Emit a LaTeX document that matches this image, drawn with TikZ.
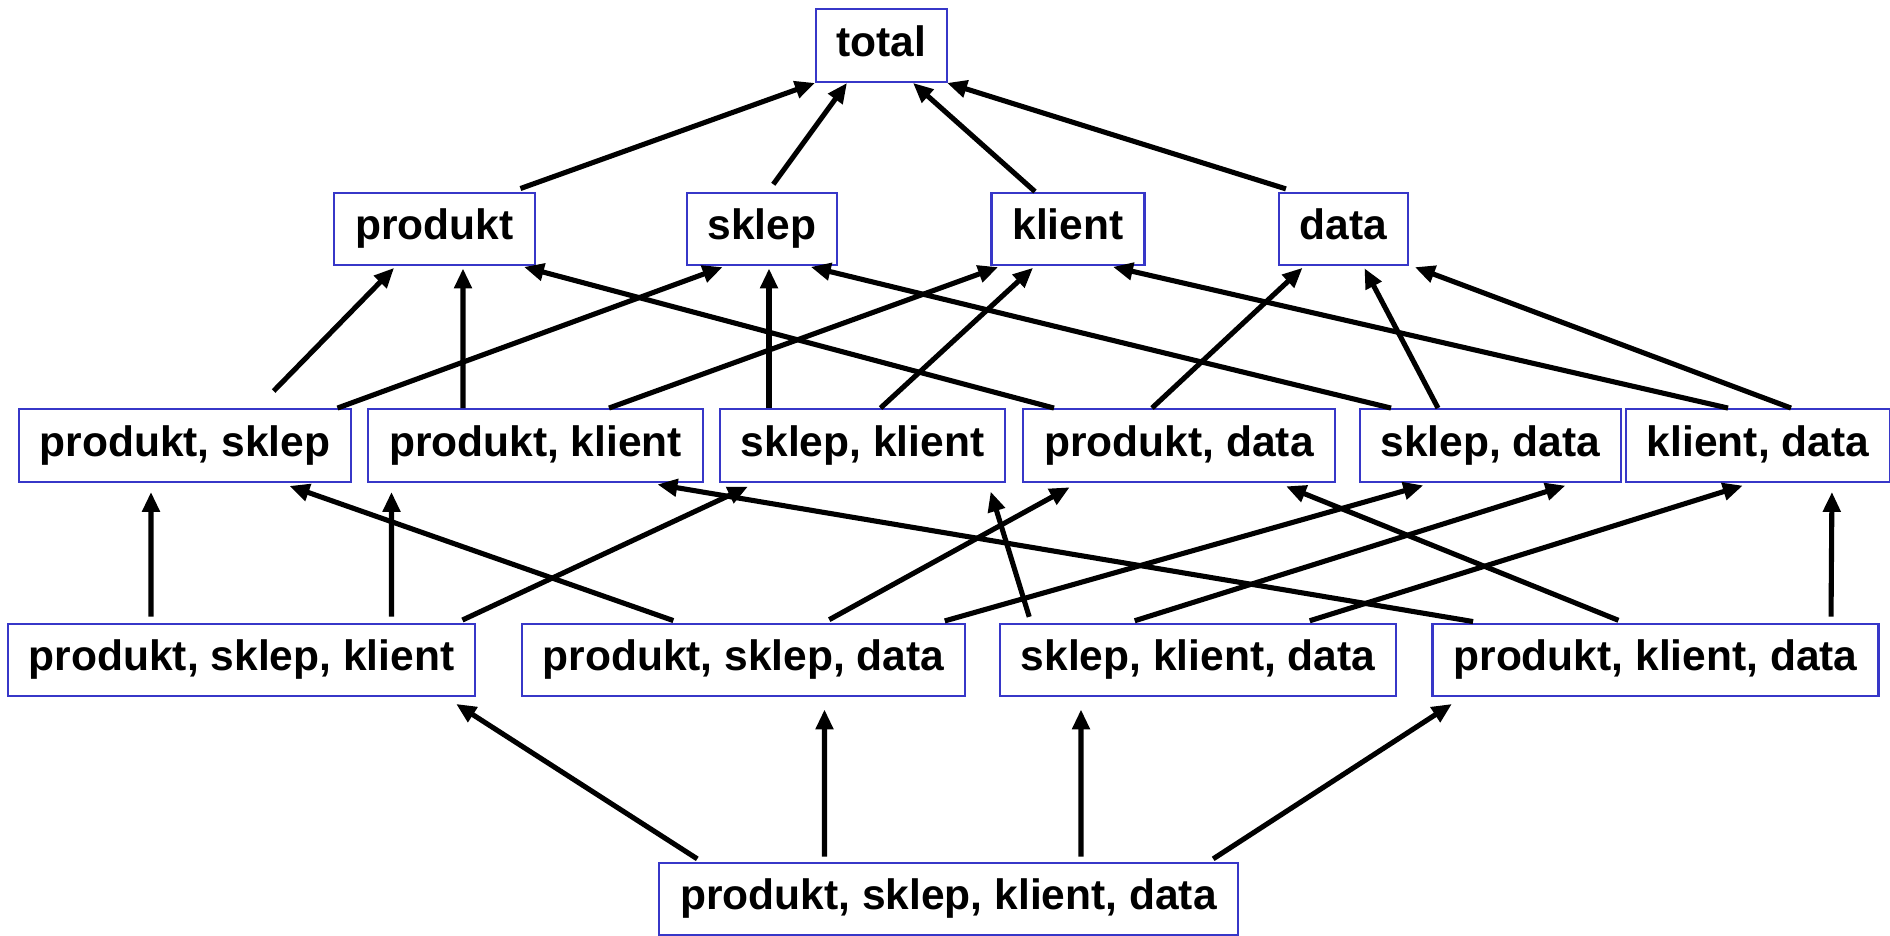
\documentclass[tikz,border=0pt]{standalone}
\usepackage{fontspec}
\setmainfont{Liberation Sans}
\usetikzlibrary{arrows.meta}

\definecolor{boxblue}{RGB}{55,55,200}

\tikzset{
	cube/.style={draw=boxblue, line width=0.6pt, fill=white, inner xsep=0.21cm, inner ysep=4.8pt,
		text height=8.6pt, text depth=2.5pt, font=\fontsize{12.1}{14}\selectfont\bfseries},
	up/.style={draw, line width=1.45pt, -{Triangle[length=0.2cm,width=0.17cm]}}
}

\begin{document}
\begin{tikzpicture}
	\useasboundingbox (0,0) rectangle (18.9,-9.36);
	
	\node[cube] (total) at (8.815,-0.455) {total};
	
	\node[cube] (produkt) at (4.345,-2.29) {produkt};
	\node[cube] (sklep) at (7.62,-2.29) {sklep};
	\node[cube] (klient) at (10.68,-2.29) {klient};
	\node[cube] (data) at (13.435,-2.29) {data};
	
	\node[cube] (ps) at (1.85,-4.455) {produkt, sklep};
	\node[cube] (pk) at (5.355,-4.455) {produkt, klient};
	\node[cube] (sk) at (8.625,-4.455) {sklep, klient};
	\node[cube] (pd) at (11.79,-4.455) {produkt, data};
	\node[cube] (sd) at (14.905,-4.455) {sklep, data};
	\node[cube] (kd) at (17.58,-4.455) {klient, data};
	
	\node[cube] (psk) at (2.415,-6.60) {produkt, sklep, klient};
	\node[cube] (psd) at (7.435,-6.60) {produkt, sklep, data};
	\node[cube] (skd) at (11.98,-6.60) {sklep, klient, data};
	\node[cube] (pkd) at (16.555,-6.60) {produkt, klient, data};
	
	\node[cube] (pskd) at (9.485,-8.99) {produkt, sklep, klient, data};
	
	
	\begin{scope}[shorten <=0.09cm]
	\draw[up] ([xshift=0.775cm]produkt.north) -- ([xshift=-0.665cm]total.south);
	\draw[up] ([xshift=0.06cm]sklep.north) -- ([xshift=-0.345cm]total.south);
	\draw[up,shorten <=0pt] ([xshift=-0.33cm]klient.north) -- ([xshift=0.315cm]total.south);
	\draw[up] ([xshift=-0.49cm]data.north) -- ([xshift=0.655cm]total.south);
	\end{scope}
	
	\begin{scope}[shorten >=0.02cm]
	\draw[up] ([xshift=0.886cm,yshift=0.17cm]ps.north) -- ([xshift=-0.39cm]produkt.south);
	\draw[up] ([xshift=1.525cm]ps.north) -- ([xshift=-0.375cm]sklep.south);
	\draw[up] ([xshift=-0.725cm]pk.north) -- ([xshift=0.285cm]produkt.south);
	\draw[up] ([xshift=0.735cm]pk.north) -- ([xshift=-0.68cm]klient.south);
	\draw[up] ([xshift=-0.935cm]sk.north) -- ([xshift=0.07cm]sklep.south);
	\draw[up] ([xshift=0.18cm]sk.north) -- ([xshift=-0.335cm]klient.south);
	\draw[up] ([xshift=-1.25cm]pd.north) -- ([xshift=0.875cm]produkt.south);
	\draw[up] ([xshift=-0.27cm]pd.north) -- ([xshift=-0.395cm]data.south);
	\draw[up] ([xshift=-0.995cm]sd.north) -- ([xshift=0.468cm]sklep.south);
	\draw[up] ([xshift=-0.525cm]sd.north) -- ([xshift=0.20cm]data.south);
	\draw[up] ([xshift=-0.30cm]kd.north) -- ([xshift=0.43cm]klient.south);
	\draw[up] ([xshift=0.33cm]kd.north) -- ([xshift=0.695cm]data.south);
	\end{scope}
	
	\begin{scope}[shorten <=0.06cm, shorten >=0.09cm]
	\draw[up] ([xshift=-0.905cm]psk.north) -- ([xshift=-0.34cm]ps.south);
	\draw[up] ([xshift=1.50cm]psk.north) -- ([xshift=-1.44cm]pk.south);
	\draw[up] ([xshift=2.155cm]psk.north) -- ([xshift=-1.065cm]sk.south);
	\draw[up] ([xshift=-0.645cm]psd.north) -- ([xshift=0.96cm]ps.south);
	\draw[up] ([xshift=0.805cm]psd.north) -- ([xshift=-1.014cm]pd.south);
	\draw[up] ([xshift=1.955cm]psd.north) -- ([xshift=-0.585cm]sd.south);
	\draw[up] ([xshift=-1.67cm]skd.north) -- ([xshift=1.255cm]sk.south);
	\draw[up] ([xshift=-0.69cm]skd.north) -- ([xshift=0.835cm]sd.south);
	\draw[up] ([xshift=1.06cm]skd.north) -- ([xshift=-0.066cm]kd.south);
	\draw[up] ([xshift=-1.765cm]pkd.north) -- ([xshift=1.13cm]pk.south);
	\draw[up] ([xshift=-0.315cm]pkd.north) -- ([xshift=0.987cm]pd.south);
	\draw[up] ([xshift=1.755cm]pkd.north) -- ([xshift=0.74cm]kd.south);
	\end{scope}
	
	\begin{scope}[shorten <=0.05cm, shorten >=0.12cm]
	\draw[up] ([xshift=-2.47cm]pskd.north) -- ([xshift=2.045cm]psk.south);
	\draw[up] ([xshift=-1.24cm]pskd.north) -- ([xshift=0.81cm]psd.south);
	\draw[up] ([xshift=1.325cm]pskd.north) -- ([xshift=-1.17cm]skd.south);
	\draw[up] ([xshift=2.605cm]pskd.north) -- ([xshift=-1.935cm]pkd.south);
	\end{scope}
	
\end{tikzpicture}
\end{document}
